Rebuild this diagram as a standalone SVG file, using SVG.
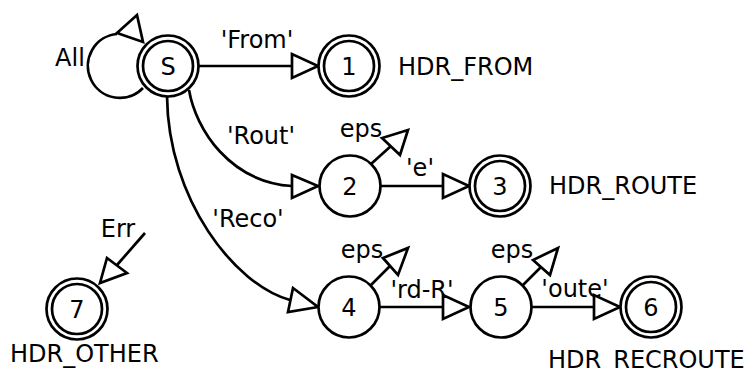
<svg xmlns="http://www.w3.org/2000/svg" width="746" height="372" viewBox="0 0 746 372">
<style>
  .n { fill: #fff; stroke: #000; stroke-width: 2.7; }
  .e { fill: none; stroke: #000; stroke-width: 2.7; }
  .a { fill: #fff; stroke: #000; stroke-width: 2.7; stroke-linejoin: miter; }
  text { font-family: "DejaVu Sans", "Liberation Sans", sans-serif; font-size: 24px; fill: #000; }
  .m { text-anchor: middle; }
</style>
<rect width="746" height="372" fill="#fff"/>
<g id="connectors">
  <!-- self loop All -->
  <path class="e" d="M117,34 A32,32 0 1 0 143,88"/>
  <polygon class="a" points="117,33 137,15 143,42"/>
  <text x="70" y="66" class="m">All</text>
  <!-- S -> 1 -->
  <line class="e" x1="198" y1="66" x2="292" y2="66"/>
  <polygon class="a" points="292,54 292,78 318,66"/>
  <text x="257" y="48" class="m">'From'</text>
  <!-- S -> 2 -->
  <path class="e" d="M189,90 C196,130 230,182 292,186"/>
  <polygon class="a" points="292,175 292,198 318,186"/>
  <text x="261" y="144" class="m">'Rout'</text>
  <!-- S -> 4 -->
  <path class="e" d="M167,96 C168,200 235,285 290,300"/>
  <polygon class="a" points="293,288 288,312 318,307"/>
  <text x="248" y="227" class="m">'Reco'</text>
  <!-- 2 eps -->
  <line class="e" x1="371" y1="164" x2="391" y2="146"/>
  <polygon class="a" points="382,138 400,155 408,130"/>
  <text x="361" y="137" class="m">eps</text>
  <!-- 2 -> 3 -->
  <line class="e" x1="380" y1="186" x2="443" y2="186"/>
  <polygon class="a" points="443,174 443,198 469,186"/>
  <text x="420" y="176" class="m">'e'</text>
  <!-- 4 eps -->
  <line class="e" x1="371" y1="285" x2="390" y2="266"/>
  <polygon class="a" points="383,258 398,275 408,248"/>
  <text x="362" y="258" class="m">eps</text>
  <!-- 4 -> 5 -->
  <line class="e" x1="380" y1="307" x2="443" y2="307"/>
  <polygon class="a" points="443,295 443,319 469,307"/>
  <text x="422" y="298" class="m">'rd-R'</text>
  <!-- 5 eps -->
  <line class="e" x1="522" y1="286" x2="541" y2="267"/>
  <polygon class="a" points="533,260 550,275 558,248"/>
  <text x="512" y="258" class="m">eps</text>
  <!-- 5 -> 6 -->
  <line class="e" x1="531" y1="307" x2="594" y2="307"/>
  <polygon class="a" points="594,295 594,319 620,307"/>
  <text x="575" y="297" class="m">'oute'</text>
  <!-- Err -> 7 -->
  <line class="e" x1="145" y1="233" x2="117" y2="265"/>
  <polygon class="a" points="107,258 127,273 100,283"/>
  <text x="118" y="237" class="m">Err</text>
</g>
<g id="node-S">
  <circle class="n" cx="168" cy="66" r="30.5"/>
  <circle class="n" cx="168" cy="66" r="25"/>
  <text x="168" y="75" class="m">S</text>
</g>
<g id="node-1">
  <circle class="n" cx="349" cy="66" r="30.5"/>
  <circle class="n" cx="349" cy="66" r="25"/>
  <text x="349" y="75" class="m">1</text>
  <text x="398" y="75">HDR_FROM</text>
</g>
<g id="node-2">
  <circle class="n" cx="350" cy="186" r="30.5"/>
  <text x="350" y="195" class="m">2</text>
</g>
<g id="node-3">
  <circle class="n" cx="500" cy="186" r="30.5"/>
  <circle class="n" cx="500" cy="186" r="25"/>
  <text x="500" y="195" class="m">3</text>
  <text x="549" y="194">HDR_ROUTE</text>
</g>
<g id="node-4">
  <circle class="n" cx="349" cy="307" r="30.5"/>
  <text x="349" y="316" class="m">4</text>
</g>
<g id="node-5">
  <circle class="n" cx="501" cy="307" r="30.5"/>
  <text x="501" y="316" class="m">5</text>
</g>
<g id="node-6">
  <circle class="n" cx="651" cy="307" r="30.5"/>
  <circle class="n" cx="651" cy="307" r="25"/>
  <text x="651" y="316" class="m">6</text>
  <text x="548" y="368">HDR_RECROUTE</text>
</g>
<g id="node-7">
  <circle class="n" cx="77" cy="309" r="30.5"/>
  <circle class="n" cx="77" cy="309" r="25"/>
  <text x="77" y="318" class="m">7</text>
  <text x="10" y="362">HDR_OTHER</text>
</g>
</svg>
